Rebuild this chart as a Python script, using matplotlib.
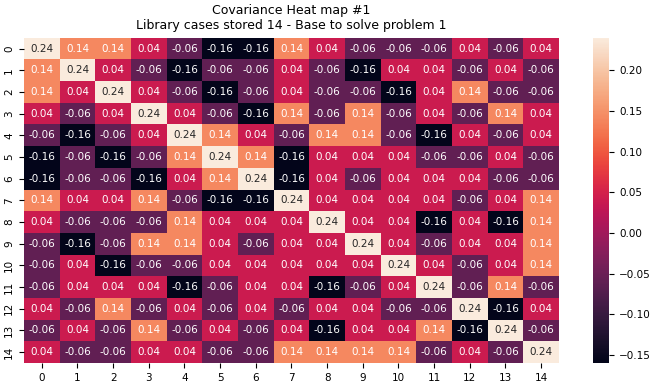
import matplotlib
matplotlib.use("Agg")
import matplotlib.pyplot as plt
import seaborn as sns
import numpy as np

labels = [str(i) for i in range(15)]
values = [
    [0.24, 0.14, 0.14, 0.04, -0.06, -0.16, -0.16, 0.14, 0.04, -0.06, -0.06, -0.06, 0.04, -0.06, 0.04],
    [0.14, 0.24, 0.04, -0.06, -0.16, -0.06, -0.06, 0.04, -0.06, -0.16, 0.04, 0.04, -0.06, 0.04, -0.06],
    [0.14, 0.04, 0.24, 0.04, -0.06, -0.16, -0.06, 0.04, -0.06, -0.06, -0.16, 0.04, 0.14, -0.06, -0.06],
    [0.04, -0.06, 0.04, 0.24, 0.04, -0.06, -0.16, 0.14, -0.06, 0.14, -0.06, 0.04, -0.06, 0.14, 0.04],
    [-0.06, -0.16, -0.06, 0.04, 0.24, 0.14, 0.04, -0.06, 0.14, 0.14, -0.06, -0.16, 0.04, -0.06, 0.04],
    [-0.16, -0.06, -0.16, -0.06, 0.14, 0.24, 0.14, -0.16, 0.04, 0.04, 0.04, -0.06, -0.06, 0.04, -0.06],
    [-0.16, -0.06, -0.06, -0.16, 0.04, 0.14, 0.24, -0.16, 0.04, -0.06, 0.04, 0.04, 0.04, -0.06, -0.06],
    [0.14, 0.04, 0.04, 0.14, -0.06, -0.16, -0.16, 0.24, 0.04, 0.04, 0.04, 0.04, -0.06, 0.04, 0.14],
    [0.04, -0.06, -0.06, -0.06, 0.14, 0.04, 0.04, 0.04, 0.24, 0.04, 0.04, -0.16, 0.04, -0.16, 0.14],
    [-0.06, -0.16, -0.06, 0.14, 0.14, 0.04, -0.06, 0.04, 0.04, 0.24, 0.04, -0.06, 0.04, 0.04, 0.14],
    [-0.06, 0.04, -0.16, -0.06, -0.06, 0.04, 0.04, 0.04, 0.04, 0.04, 0.24, 0.04, -0.06, 0.04, 0.14],
    [-0.06, 0.04, 0.04, 0.04, -0.16, -0.06, 0.04, 0.04, -0.16, -0.06, 0.04, 0.24, -0.06, 0.14, -0.06],
    [0.04, -0.06, 0.14, -0.06, 0.04, -0.06, 0.04, -0.06, 0.04, 0.04, -0.06, -0.06, 0.24, -0.16, 0.04],
    [-0.06, 0.04, -0.06, 0.14, -0.06, 0.04, -0.06, 0.04, -0.16, 0.04, 0.04, 0.14, -0.16, 0.24, -0.06],
    [0.04, -0.06, -0.06, 0.04, 0.04, -0.06, -0.06, 0.14, 0.14, 0.14, 0.14, -0.06, 0.04, -0.06, 0.24],
]
title = "Covariance Heat map #1\nLibrary cases stored 14 - Base to solve problem 1"

fig = plt.figure(figsize=(6.54, 3.88), dpi=100)
ax = fig.add_axes([0.0367, 0.0644, 0.818, 0.8384])
cax = fig.add_axes([0.9067, 0.0644, 0.0252, 0.8384])
sns.heatmap(np.array(values), annot=True, fmt=".2g", ax=ax, cbar_ax=cax,
            xticklabels=labels, yticklabels=labels, annot_kws={"fontsize": 7.5})
ax.tick_params(axis="both", labelsize=7.5)
cax.tick_params(labelsize=7.5)
ax.set_title(title, fontsize=9)
fig.savefig("out.png", dpi=100)
